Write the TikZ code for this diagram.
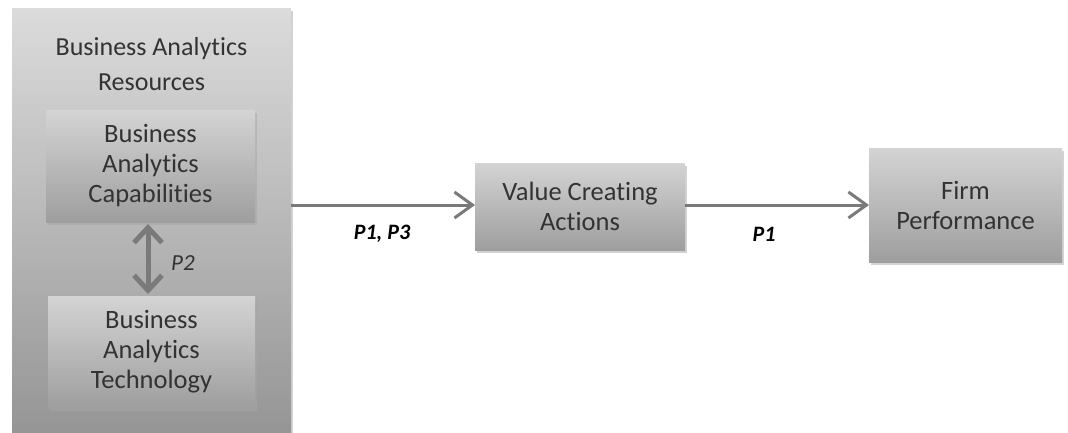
\documentclass[tikz,border=0pt]{standalone}
\usepackage{fontspec}
\setmainfont[Ligatures={NoCommon}]{Carlito}
\usetikzlibrary{arrows.meta,shadows}
\definecolor{txt}{HTML}{333333}
\definecolor{arr}{HTML}{7A7A7A}
\tikzset{
  box/.style={draw=none, inner sep=0pt, align=center, text=txt,
    top color=#1, bottom color=black!38,
    drop shadow={shadow xshift=2pt, shadow yshift=-3pt, fill=black!35, opacity=0.5}},
  box/.default={black!17},
  boxtext/.style={font=\fontsize{26.5}{30}\selectfont, text=txt, align=center},
  conn/.style={draw=arr, line width=3pt, -{Straight Barb[length=18pt,width=26pt,line width=3pt]}},
  lab/.style={font=\fontsize{22}{24}\selectfont\bfseries\itshape, text=black},
}
\begin{document}
\begin{tikzpicture}[x=1pt,y=-1pt]
\useasboundingbox (0,0) rectangle (1068,432);
\fill[white] (0,0) rectangle (1068,432);
% outer box
\path[box={black!14}, bottom color=black!42] (12,8) rectangle (291,440);
\node[boxtext, font=\fontsize{26}{35}\selectfont] (res) at (151.5,64) {Business Analytics\\Resources};
\path[box={black!17}] (46,110) rectangle (255,222) node[midway, boxtext] (cap) {Business\\Analytics\\Capabilities};
\path[box={black!17}] (48,296) rectangle (255,408) node[midway, boxtext] (tech) {Business\\Analytics\\Technology};
\coordinate (capb) at (148,224);
\coordinate (techt) at (148,294);
\draw[draw=arr, line width=5pt, {Straight Barb[length=15pt,width=28pt,line width=5pt]}-{Straight Barb[length=15pt,width=28pt,line width=5pt]}] (capb) -- (techt);
\node[font=\fontsize{23}{24}\selectfont\itshape, text=txt] (p2) at (183,263) {P2};
% value creating actions
\path[box={black!17}] (475,163) rectangle (685,250) node[midway, boxtext] (vca) {Value Creating\\Actions};
% firm performance
\path[box={black!17}] (869,148) rectangle (1062,262) node[midway, boxtext] (fp) {Firm\\Performance};
\coordinate (outr) at (291,205);
\coordinate (vcal) at (475,205);
\coordinate (vcar) at (685,205);
\coordinate (fpl) at (869,205);
\draw[conn] (outr) -- (vcal);
\draw[conn] (vcar) -- (fpl);
\node[lab] (l1) at (382,234) {P1, P3};
\node[lab] (l2) at (764,234) {P1};
\end{tikzpicture}
\end{document}
